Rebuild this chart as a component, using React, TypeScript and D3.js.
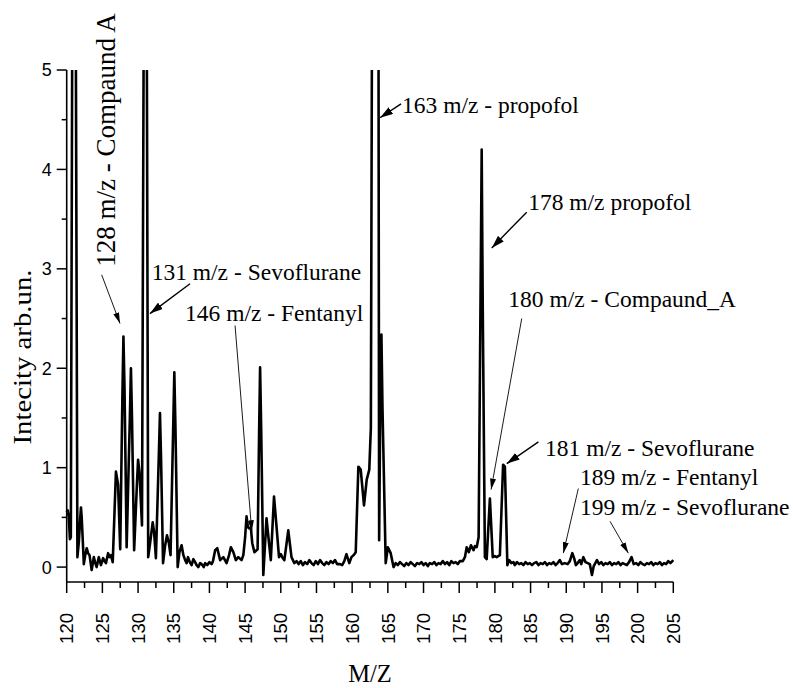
import React from "react";
import * as d3 from "d3";

// ---- data ----
const MZ = [
  120.0, 120.15, 120.3, 120.45, 120.58, 120.8, 121.25, 121.5, 121.7, 121.9, 122.0, 122.1, 122.2, 122.4, 122.6, 122.8, 123.0, 123.2,
  123.5, 123.8, 124.0, 124.2, 124.5, 124.8, 125.1, 125.3, 125.5, 125.8, 126.0, 126.2, 126.45, 126.9, 127.2, 127.5,
  127.8, 127.95, 128.1, 128.4, 128.85, 129.0, 129.15, 129.45, 129.85, 130.0, 130.2, 130.55, 130.82, 131.2, 131.42, 131.7, 132.05, 132.25, 132.5,
  132.9, 133.07, 133.22, 133.5,
  133.8, 134.05, 134.3, 134.55, 134.92, 135.08, 135.24, 135.55, 135.8, 136.1, 136.35, 136.6, 136.8, 137.0, 137.25, 137.5, 137.75, 138.0,
  138.2, 138.45, 138.7, 138.9, 139.2, 139.4, 139.7, 140.0, 140.3, 140.5, 140.8, 141.1, 141.5, 141.95, 142.4, 142.75,
  143.0, 143.35, 143.7, 144.05, 144.5, 144.75, 145.0, 145.2, 145.4, 145.55, 145.8, 146.0, 146.3, 146.6, 146.75, 146.95, 147.1, 147.25,
  147.55, 148.0, 148.35, 148.6, 149.05, 149.4, 149.75, 150.0, 150.2, 150.5, 151.05, 151.5, 151.9, 152.2, 152.5, 152.8,
  153.1, 153.4, 153.7, 154.0, 154.3, 154.6, 154.9, 155.2, 155.5, 155.8, 156.1, 156.4, 156.7, 157.0, 157.3, 157.6,
  157.9, 158.3, 158.6, 158.9, 159.2, 159.6, 159.9, 160.2, 160.5, 160.87, 161.2, 161.66, 162.04, 162.4, 162.62, 162.8,
  163.68, 163.78, 163.95, 164.1, 164.25, 164.7, 165.0, 165.4, 165.8, 166.1, 166.4, 166.7, 167.0, 167.3, 167.6, 167.9, 168.2, 168.5,
  168.8, 169.1, 169.4, 169.7, 170.0, 170.3, 170.6, 170.9, 171.2, 171.5, 171.8, 172.1, 172.4, 172.7, 173.0, 173.3,
  173.6, 173.9, 174.2, 174.5, 174.8, 175.1, 175.5, 175.8, 176.05, 176.35, 176.65, 177.0, 177.2, 177.45, 177.72, 178.0, 178.15, 178.3,
  178.6, 178.85, 179.3, 179.7, 180.0, 180.25, 180.7, 181.15, 181.4, 181.75, 182.0, 182.3, 182.6, 182.8, 183.1, 183.4,
  183.7, 184.0, 184.3, 184.6, 184.9, 185.2, 185.5, 185.8, 186.1, 186.4, 186.7, 187.0, 187.3, 187.6, 187.9, 188.2,
  188.5, 188.8, 189.1, 189.4, 189.8, 190.2, 190.5, 190.85, 191.1, 191.35, 191.6, 191.9, 192.1, 192.4, 192.7, 193.0,
  193.3, 193.6, 193.85, 194.3, 194.6, 194.9, 195.2, 195.5, 195.8, 196.1, 196.4, 196.7, 197.0, 197.3, 197.6, 197.9,
  198.2, 198.5, 198.8, 199.15, 199.45, 199.8, 200.1, 200.4, 200.7, 201.0, 201.3, 201.6, 201.9, 202.2, 202.5, 202.8,
  203.1, 203.4, 203.7, 204.0, 204.3, 204.6, 205.0,
];
const INTENSITY = [
  0.55, 0.57, 0.5, 0.28, 0.3, 6, 6, 0.1, 0.25, 0.5, 0.6, 0.5, 0.35, 0.03, 0.12, 0.19, 0.14, 0.12,
  -0.03, 0.1, 0.04, 0.0, 0.1, 0.02, 0.09, 0.06, 0.04, 0.14, 0.1, 0.12, 0.05, 0.96, 0.83, 0.18,
  1.7, 2.32, 1.8, 0.2, 1.5, 2.0, 1.5, 0.17, 0.85, 1.08, 0.95, 0.42, 6, 6, 0.1, 0.25, 0.45, 0.35, 0.09,
  1.1, 1.55, 1.1, 0.04,
  0.22, 0.32, 0.25, 0.12, 1.4, 1.96, 1.4, 0.0, 0.15, 0.22, 0.12, 0.07, 0.04, 0.1, 0.05, 0.02, 0.08, 0.05,
  0.02, 0.0, 0.04, 0.03, 0.0, 0.04, 0.02, 0.05, 0.03, 0.06, 0.17, 0.19, 0.07, 0.1, 0.04, 0.12,
  0.2, 0.15, 0.07, 0.1, 0.07, 0.12, 0.3, 0.51, 0.4, 0.39, 0.4, 0.24, 0.15, 0.17, 0.18, 1.3, 2.01, 1.4,
  -0.08, 0.49, 0.24, 0.07, 0.71, 0.41, 0.1, 0.13, 0.1, 0.07, 0.37, 0.1, 0.04, 0.06, 0.03, 0.06,
  0.02, 0.05, 0.03, 0.07, 0.04, 0.02, 0.06, 0.03, 0.07, 0.04, 0.02, 0.05, 0.03, 0.06, 0.04, 0.07,
  0.03, 0.03, 0.02, 0.06, 0.13, 0.04, 0.1, 0.12, 0.15, 1.01, 0.98, 0.62, 0.88, 0.98, 1.4, 6,
  6, 0.27, 1.7, 2.34, 1.6, 0.04, 0.2, 0.14, 0.0, 0.04, 0.02, 0.05, 0.03, 0.01, 0.04, 0.02, 0.05, 0.03,
  0.01, 0.04, 0.03, 0.05, 0.02, 0.04, 0.01, 0.04, 0.03, 0.05, 0.02, 0.04, 0.03, 0.06, 0.03, 0.05,
  0.02, 0.06, 0.04, 0.05, 0.03, 0.06, 0.06, 0.1, 0.2, 0.15, 0.22, 0.17, 0.21, 0.2, 0.3, 2.8, 4.2, 2.6,
  0.1, 0.08, 0.69, 0.1, 0.11, 0.1, 0.12, 1.03, 1.01, 0.02, 0.07, 0.04, 0.05, 0.02, 0.05, 0.03,
  0.04, 0.02, 0.05, 0.03, 0.04, 0.02, 0.04, 0.05, 0.02, 0.04, 0.03, 0.05, 0.02, 0.04, 0.03, 0.05,
  0.02, 0.04, 0.07, 0.03, 0.04, 0.03, 0.06, 0.14, 0.09, 0.02, 0.04, 0.07, 0.03, 0.1, 0.05, 0.04,
  0.03, -0.08, 0.01, 0.07, 0.03, 0.05, 0.02, 0.04, 0.03, 0.05, 0.02, 0.04, 0.03, 0.05, 0.02, 0.04,
  0.03, 0.02, 0.05, 0.1, 0.03, 0.04, 0.02, 0.05, 0.03, 0.02, 0.04, 0.03, 0.05, 0.02, 0.04, 0.03,
  0.05, 0.02, 0.04, 0.03, 0.06, 0.04, 0.07,
];

const X_TICKS = [120, 125, 130, 135, 140, 145, 150, 155, 160, 165, 170, 175, 180, 185, 190, 195, 200, 205];
const Y_TICKS = [0, 1, 2, 3, 4, 5];

const ANN_LABELS = [
  "131 m/z - Sevoflurane",
  "146 m/z - Fentanyl",
  "163 m/z - propofol",
  "178 m/z propofol",
  "180 m/z - Compaund_A",
  "181 m/z - Sevoflurane",
  "189 m/z - Fentanyl",
  "199 m/z - Sevoflurane",
];
// text anchor (m/z, intensity)
const ANN_TEXT_AT: [number, number][] = [
  [131.91, 2.89], [136.58, 2.48], [166.99, 4.57], [184.66, 3.59],
  [181.88, 2.62], [187.03, 1.12], [191.93, 0.825], [191.93, 0.52],
];
const ANN_TAIL: [number, number][] = [
  [137.28, 2.85], [143.59, 2.43], [166.85, 4.66], [184.46, 3.57],
  [183.76, 2.5], [186.1, 1.26], [191.69, 0.79], [196.14, 0.46],
];
const ANN_TIP: [number, number][] = [
  [131.67, 2.55], [145.93, 0.36], [163.9, 4.52], [179.56, 3.21],
  [179.47, 0.78], [181.66, 1.04], [189.59, 0.14], [198.7, 0.14],
];
const ANN_BOLD = [true, false, true, true, false, true, false, false];

const ROT_LABEL = "128 m/z - Compaund A";
const ROT_AT: [number, number] = [126.77, 3.02];
const ROT_TAIL: [number, number] = [124.9, 2.94];
const ROT_TIP: [number, number] = [127.47, 2.45];

export default function App() {
  const W = 793, H = 688;
  const x = d3.scaleLinear().domain([120, 205]).range([66.7, 673.3]);
  const y = d3.scaleLinear().domain([-0.15, 5]).range([582, 70]);
  const pts: [number, number][] = MZ.map((m, i) => [m, INTENSITY[i]]);
  const line = d3.line<[number, number]>().x((d) => x(d[0])).y((d) => y(d[1]));
  const minorX = d3.range(122.5, 205, 5);
  const minorY = d3.range(0.5, 5, 1);
  const serif = "'Liberation Serif', 'Times New Roman', serif";
  const sans = "'Liberation Sans', Arial, sans-serif";
  const y0 = y(-0.15);

  return (
    <svg width={W} height={H} style={{ position: "absolute", left: 0, top: 0, background: "#fff" }}>
      <defs>
        <clipPath id="plotclip">
          <rect x={x(120) - 2} y={y(5)} width={x(205) - x(120) + 4} height={y0 - y(5) + 20} />
        </clipPath>
        <marker id="headBig" markerUnits="userSpaceOnUse" markerWidth={13} markerHeight={8} refX={13} refY={4} orient="auto">
          <path d="M0,0 L13,4 L0,8 z" fill="#000" />
        </marker>
        <marker id="headSmall" markerUnits="userSpaceOnUse" markerWidth={11} markerHeight={6} refX={11} refY={3} orient="auto">
          <path d="M0,0 L11,3 L0,6 z" fill="#000" />
        </marker>
      </defs>

      {/* spectrum */}
      <path d={line(pts) || ""} fill="none" stroke="#000" strokeWidth={2.6} strokeLinejoin="round" clipPath="url(#plotclip)" />

      {/* axes */}
      <line x1={x(120)} x2={x(120)} y1={y(5)} y2={y0} stroke="#000" strokeWidth={1.6} />
      <line x1={x(120)} x2={x(205)} y1={y0} y2={y0} stroke="#000" strokeWidth={1.6} />
      {Y_TICKS.map((t) => (
        <g key={"yt" + t}>
          <line x1={x(120) - 10} x2={x(120)} y1={y(t)} y2={y(t)} stroke="#000" strokeWidth={1.5} />
          <text x={x(120) - 15} y={y(t)} dy="0.36em" textAnchor="end" fontFamily={sans} fontSize={18}>
            {t}
          </text>
        </g>
      ))}
      {minorY.map((t) => (
        <line key={"ym" + t} x1={x(120) - 5} x2={x(120)} y1={y(t)} y2={y(t)} stroke="#000" strokeWidth={1.5} />
      ))}
      {X_TICKS.map((t) => (
        <g key={"xt" + t}>
          <line x1={x(t)} x2={x(t)} y1={y0} y2={y0 + 11} stroke="#000" strokeWidth={1.5} />
          <text
            transform={`translate(${x(t)},613) rotate(-90)`}
            dy="0.36em"
            textAnchor="end"
            fontFamily={sans}
            fontSize={18.5}
          >
            {t}
          </text>
        </g>
      ))}
      {minorX.map((t) => (
        <line key={"xm" + t} x1={x(t)} x2={x(t)} y1={y0} y2={y0 + 6} stroke="#000" strokeWidth={1.5} />
      ))}

      {/* axis titles */}
      <text x={(x(120) + x(205)) / 2} y={682} textAnchor="middle" fontFamily={serif} fontSize={24.5}>
        M/Z
      </text>
      <text
        transform={`translate(31,357) rotate(-90)`}
        textAnchor="middle"
        fontFamily={serif}
        fontSize={25}
        textLength={175}
        lengthAdjust="spacingAndGlyphs"
      >
        Intecity arb.un.
      </text>

      {/* annotations */}
      <text
        transform={`translate(${x(ROT_AT[0])},${y(ROT_AT[1])}) rotate(-90)`}
        fontFamily={serif}
        fontSize={27}
      >
        {ROT_LABEL}
      </text>
      <line
        x1={x(ROT_TAIL[0])}
        y1={y(ROT_TAIL[1])}
        x2={x(ROT_TIP[0])}
        y2={y(ROT_TIP[1])}
        stroke="#000"
        strokeWidth={0.9}
        markerEnd="url(#headSmall)"
      />
      {ANN_LABELS.map((lab, i) => (
        <g key={"ann" + i}>
          <text x={x(ANN_TEXT_AT[i][0])} y={y(ANN_TEXT_AT[i][1])} fontFamily={serif} fontSize={23.5}>
            {lab}
          </text>
          <line
            x1={x(ANN_TAIL[i][0])}
            y1={y(ANN_TAIL[i][1])}
            x2={x(ANN_TIP[i][0])}
            y2={y(ANN_TIP[i][1])}
            stroke="#000"
            strokeWidth={ANN_BOLD[i] ? 1.4 : 0.9}
            markerEnd={ANN_BOLD[i] ? "url(#headBig)" : "url(#headSmall)"}
          />
        </g>
      ))}
    </svg>
  );
}
